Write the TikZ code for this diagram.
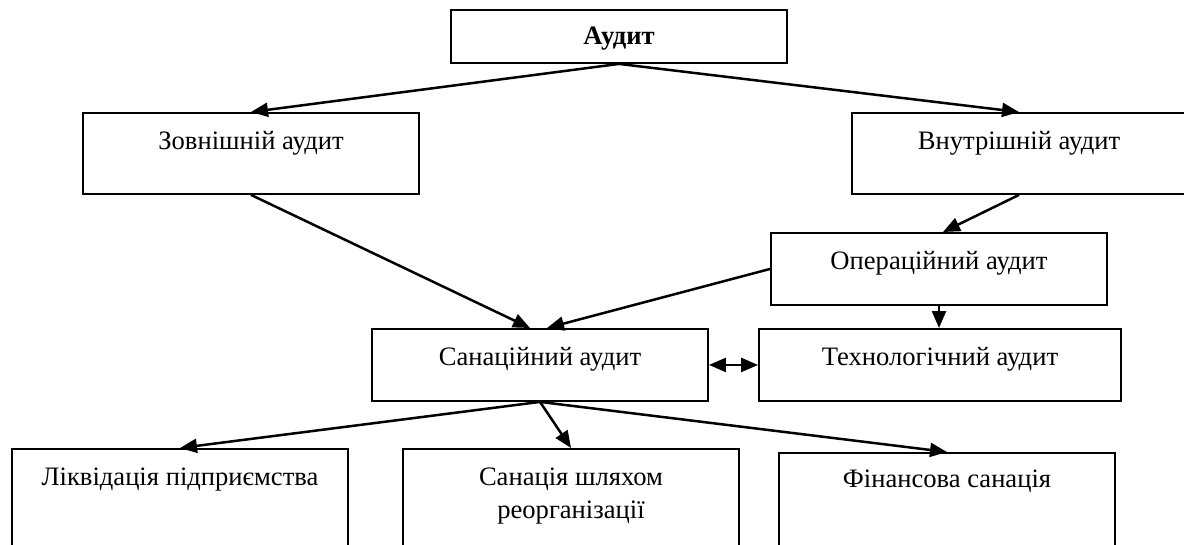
\documentclass[tikz,border=0pt]{standalone}
\usepackage{fontspec}
\setmainfont{Liberation Serif}
\usetikzlibrary{arrows.meta,calc}

\begin{document}
\begin{tikzpicture}[
    x=1pt,
    y=-1pt,
    >={Triangle[length=17pt,width=14pt]},
    box/.style={
        draw,
        line width=1.9pt,
        anchor=north,
        inner xsep=0pt,
        inner ysep=0pt,
        minimum width=336pt,
        text height=37pt,
        font=\fontsize{26.6}{34}\selectfont
    },
    arrow/.style={->,line width=2.5pt}
]

\useasboundingbox (0,0) rectangle (1184,544);
\clip (0,0) rectangle (1184,544);

% top level
\node[box,text height=35pt,text depth=18pt,font=\fontsize{26.6}{34}\selectfont\bfseries] (audit) at (619,9) {Аудит};
\node[box,text depth=44pt] (outer) at (251,112) {Зовнішній аудит};
\node[box,text depth=44pt,minimum width=334pt] (inner) at (1019,112) {Внутрішній аудит};

% middle
\node[box,text depth=35pt] (oper) at (939,232) {Операційний аудит};
\node[box,text depth=35pt] (san) at (540,328) {Санаційний аудит};
\node[box,text depth=35pt,minimum width=362pt] (tech) at (940,328) {Технологічний аудит};

% bottom, cut by the page edge
\node[box,text depth=90pt] (liq) at (180,448) {Ліквідація підприємства};
\node[box,text depth=90pt] (reorg) at (571,448)
    {\begin{tabular}[t]{@{}c@{}}Санація шляхом\\[-1pt]реорганізації\end{tabular}};
\node[box,text height=35pt,text depth=90pt] (fin) at (947,452) {Фінансова санація};

\draw[arrow] (audit.south) -- (outer.north);
\draw[arrow] (audit.south) -- (inner.north);
\draw[arrow] (outer.south) -- ([xshift=-10pt]san.north);
\draw[arrow] (inner.south) -- ([xshift=4pt]oper.north);
\draw[arrow] (oper.west) -- ([xshift=7pt]san.north);
\draw[arrow] (oper.south) -- (oper.south |- tech.north);
\draw[<->,line width=2.5pt] (san.east) -- (tech.west);
\draw[arrow] (san.south) -- (liq.north);
\draw[arrow] (san.south) -- (reorg.north);
\draw[arrow] (san.south) -- (fin.north);

\end{tikzpicture}
\end{document}
